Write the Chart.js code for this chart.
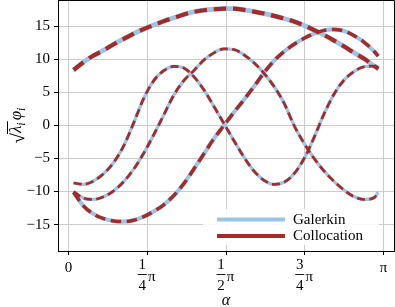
<!DOCTYPE html>
<html>
<head>
<meta charset="utf-8">
<script src="https://cdn.jsdelivr.net/npm/chart.js@4.4.1/dist/chart.umd.min.js"></script>
<style>
  html, body { margin: 0; padding: 0; background: #ffffff; }
  canvas { display: block; }
</style>
</head>
<body>
<canvas id="eigen-chart" width="395" height="307"></canvas>
<script>
// Eigenfunctions sqrt(lambda_i) * phi_i, Galerkin vs Collocation

// sample positions (alpha, radians)
const alpha = [0.05, 0.15, 0.25, 0.35, 0.45, 0.55, 0.65, 0.75, 0.85, 0.95,
               1.05, 1.15, 1.25, 1.35, 1.45, 1.55, 1.65, 1.75, 1.85, 1.95,
               2.05, 2.15, 2.25, 2.35, 2.45, 2.55, 2.65, 2.75, 2.85, 2.95,
               3.05, 3.09];

// first eigenfunction (top arch)
const phi1 = [8.4, 9.6, 10.6, 11.4, 12.3, 13.1, 13.9, 14.6, 15.2, 15.8,
              16.3, 16.8, 17.2, 17.45, 17.6, 17.7, 17.7, 17.5, 17.25, 16.95,
              16.6, 16.2, 15.75, 15.15, 14.45, 13.7, 12.85, 11.95, 11.0, 10.1,
              9.0, 8.6];

// second eigenfunction
const phi2 = [-10.1, -12.2, -13.4, -14.1, -14.45, -14.55, -14.35, -13.8, -13.0, -12.0,
              -10.6, -8.8, -6.6, -4.3, -2.0, 0.0, 2.0, 3.9, 5.9, 8.0,
              9.8, 11.2, 12.3, 13.2, 13.9, 14.4, 14.55, 14.3, 13.6, 12.6,
              11.2, 10.5];

// third eigenfunction
const phi3 = [-8.7, -8.9, -8.4, -7.3, -5.6, -3.1, 0.4, 4.1, 6.8, 8.3,
              8.95, 8.7, 7.4, 5.4, 2.9, 0.3, -2.3, -4.8, -6.9, -8.3,
              -8.9, -8.6, -7.3, -5.0, -1.8, 1.8, 4.8, 6.9, 8.2, 8.9,
              9.0, 8.4];

// fourth eigenfunction
const phi4 = [-10.0, -11.0, -11.2, -10.8, -9.9, -8.5, -6.6, -4.2, -1.4, 1.6,
              4.6, 6.8, 8.3, 9.9, 11.0, 11.6, 11.5, 10.7, 9.5, 7.9,
              5.9, 3.4, 0.0, -2.7, -5.0, -6.9, -8.5, -9.8, -10.8, -11.2,
              -10.9, -10.1];

const methodNames = ['Galerkin', 'Collocation'];
const xTickValues = [0, Math.PI / 4, Math.PI / 2, 3 * Math.PI / 4, Math.PI];
const xTickLabels = ['0', '1/4π', '1/2π', '3/4π', 'π'];
const yTickValues = [-15, -10, -5, 0, 5, 10, 15];

// styling
const BLUE = '#9dc3e6';
const RED = '#a52a2a';
const GRID = '#cbcbcb';
const FONT = 'Liberation Serif, "Times New Roman", serif';
const curveWidths = [4.2, 3.5, 2.7, 2.7];

const curves = [phi1, phi2, phi3, phi4];
const datasets = [];
curves.forEach((vals, i) => {
    const pts = alpha.map((a, k) => ({ x: a, y: vals[k] }));
    const w = curveWidths[i];
    datasets.push({
        label: methodNames[0],
        data: pts,
        borderColor: BLUE,
        borderWidth: w + 0.6,
        pointRadius: 0,
        cubicInterpolationMode: 'monotone',
        order: 2
    });
    datasets.push({
        label: methodNames[1],
        data: pts,
        borderColor: RED,
        borderWidth: w,
        borderDash: [w * 3, w * 1.6],
        pointRadius: 0,
        cubicInterpolationMode: 'monotone',
        order: 1
    });
});

// frame on the top and right sides
const framePlugin = {
    id: 'frame',
    afterDraw(chart) {
        const { ctx, chartArea } = chart;
        ctx.save();
        ctx.strokeStyle = '#000000';
        ctx.lineWidth = 1;
        ctx.beginPath();
        ctx.moveTo(chartArea.left, chartArea.top + 0.5);
        ctx.lineTo(chartArea.right + 0.5, chartArea.top + 0.5);
        ctx.lineTo(chartArea.right + 0.5, chartArea.bottom);
        ctx.stroke();
        ctx.restore();
    }
};

// x tick labels as stacked fractions of pi, plus the axis titles
const labelPlugin = {
    id: 'mathLabels',
    afterDraw(chart) {
        const ctx = chart.ctx;
        const xs = chart.scales.x;
        const area = chart.chartArea;
        ctx.save();
        ctx.fillStyle = '#000000';
        ctx.strokeStyle = '#000000';
        ctx.textAlign = 'center';
        ctx.textBaseline = 'middle';
        ctx.font = '15px ' + FONT;
        xTickValues.forEach((v, i) => {
            const t = xs.getPixelForValue(v);
            const lab = xTickLabels[i];
            if (lab.indexOf('/') < 0) {
                ctx.fillText(lab, t, 268);
                return;
            }
            const num = lab.split('/')[0];
            const den = lab.split('/')[1].replace('π', '');
            ctx.fillText(num, t - 5, 265);
            ctx.fillText(den, t - 5, 286);
            ctx.lineWidth = 0.9;
            ctx.beginPath();
            ctx.moveTo(t - 9.5, 274.5);
            ctx.lineTo(t - 0.5, 274.5);
            ctx.stroke();
            ctx.fillText('π', t + 4.5, 277);
        });

        // x axis title
        ctx.font = 'italic 16px ' + FONT;
        ctx.fillText('α', (area.left + area.right) / 2, 301);

        // y axis title: sqrt(lambda_i) phi_i, rotated
        ctx.translate(21, (area.top + area.bottom) / 2);
        ctx.rotate(-Math.PI / 2);
        ctx.textAlign = 'left';
        ctx.textBaseline = 'alphabetic';
        const big = 'italic 17px ' + FONT;
        const small = 'italic 12px ' + FONT;
        const rootFont = '19px ' + FONT;
        ctx.font = rootFont;
        const wSqrt = ctx.measureText('√').width;
        ctx.font = big;
        const wLam = ctx.measureText('λ').width;
        const wPhi = ctx.measureText('φ').width;
        ctx.font = small;
        const wSub = ctx.measureText('i').width;
        const total = wSqrt + wLam + wSub + 2 + wPhi + wSub;
        let x = -total / 2;
        ctx.font = rootFont;
        ctx.fillText('√', x, 3);
        x += wSqrt;
        ctx.lineWidth = 1;
        ctx.beginPath();
        ctx.moveTo(x - 1, -13.5);
        ctx.lineTo(x + wLam + wSub + 1, -13.5);
        ctx.stroke();
        ctx.font = big;
        ctx.fillText('λ', x, 0);
        x += wLam;
        ctx.font = small;
        ctx.fillText('i', x, 3.5);
        x += wSub + 2;
        ctx.font = big;
        ctx.fillText('φ', x, 0);
        x += wPhi;
        ctx.font = small;
        ctx.fillText('i', x, 3.5);
        ctx.restore();
    }
};

// legend box in the lower right corner of the plot
const legendPlugin = {
    id: 'insideLegend',
    afterDraw(chart) {
        const ctx = chart.ctx;
        ctx.save();
        ctx.fillStyle = 'rgba(255,255,255,0.9)';
        ctx.fillRect(203, 209, 176, 36);
        const rows = [[methodNames[0], BLUE, 219.5], [methodNames[1], RED, 236]];
        ctx.font = '15px ' + FONT;
        ctx.textAlign = 'left';
        ctx.textBaseline = 'middle';
        rows.forEach(r => {
            ctx.strokeStyle = r[1];
            ctx.lineWidth = 4;
            ctx.beginPath();
            ctx.moveTo(217, r[2]);
            ctx.lineTo(285, r[2]);
            ctx.stroke();
            ctx.fillStyle = '#000000';
            ctx.fillText(r[0], 293, r[2] + 0.5);
        });
        ctx.restore();
    }
};

const ctxEl = document.getElementById('eigen-chart');
const chart = new Chart(ctxEl, {
    type: 'line',
    data: { datasets: datasets },
    plugins: [framePlugin, labelPlugin, legendPlugin],
    options: {
        responsive: false,
        animation: false,
        layout: { padding: { left: 0, right: 1, top: 0, bottom: 0 } },
        plugins: {
            legend: { display: false },
            tooltip: { enabled: false },
            title: { display: false }
        },
        scales: {
            x: {
                type: 'linear',
                min: -0.105,
                max: Math.PI + 0.105,
                afterBuildTicks: scale => {
                    scale.ticks = xTickValues.map(v => ({ value: v }));
                },
                afterFit: scale => {
                    scale.height = 56;
                    scale.paddingLeft = 0;
                    scale.paddingRight = 0;
                },
                ticks: { display: false },
                grid: { color: GRID, lineWidth: 1, tickColor: '#000000', tickLength: 4 },
                border: { display: true, color: '#000000', width: 1 }
            },
            y: {
                type: 'linear',
                min: -19,
                max: 19,
                afterBuildTicks: scale => {
                    scale.ticks = yTickValues.map(v => ({ value: v }));
                },
                afterFit: scale => {
                    scale.width = 58;
                    scale.paddingTop = 0;
                    scale.paddingBottom = 0;
                },
                ticks: {
                    padding: 4,
                    color: '#000000',
                    font: { family: FONT, size: 15 },
                    callback: v => (v < 0 ? '\u2212' + Math.abs(v) : String(v))
                },
                grid: { color: GRID, lineWidth: 1, tickColor: '#000000', tickLength: 4 },
                border: { display: true, color: '#000000', width: 1 }
            }
        }
    }
});
</script>
</body>
</html>
